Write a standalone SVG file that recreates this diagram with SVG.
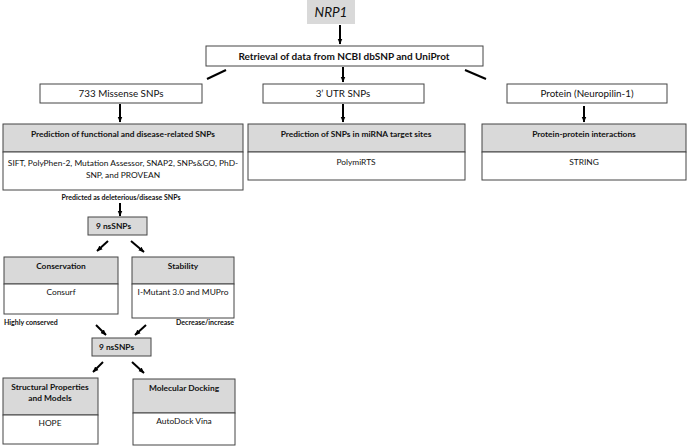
<svg xmlns="http://www.w3.org/2000/svg" width="690" height="447" viewBox="0 0 690 447">
<defs>
<marker id="ah" viewBox="0 0 10 10" refX="9" refY="5" markerWidth="3" markerHeight="3" orient="auto" markerUnits="strokeWidth">
<path d="M0,1 L10,5 L0,9 z" fill="#000"/>
</marker>
<style>
text{font-family:Lato,"Liberation Sans",sans-serif;fill:#111;text-anchor:middle}
.b{font-weight:bold}
.box{fill:#fff;stroke:#444;stroke-width:1}
.hd{fill:#d9d9d9;stroke:#444;stroke-width:1}
.ln{stroke:#000;stroke-width:2;fill:none}
.ar{stroke:#000;stroke-width:2;fill:none;marker-end:url(#ah)}
.t8{font-size:8.4px}
.t9{font-size:9.8px}
.sm{font-size:7px;font-weight:bold}
</style>
</defs>
<rect width="690" height="447" fill="#fff"/>
<g id="connectors">
<line class="ar" x1="340" y1="25" x2="340" y2="44"/>
<line class="ln" x1="226" y1="70" x2="207" y2="79"/>
<line class="ln" x1="465" y1="70" x2="486" y2="79"/>
<line class="ar" x1="343" y1="67" x2="343" y2="82"/>
<line class="ar" x1="120" y1="104" x2="120" y2="122"/>
<line class="ar" x1="343" y1="104" x2="343" y2="122"/>
<line class="ar" x1="584" y1="106" x2="584" y2="122"/>
<line class="ar" x1="120" y1="203" x2="120" y2="216"/>
<line class="ar" x1="108" y1="241" x2="97" y2="251"/>
<line class="ar" x1="131" y1="241" x2="144" y2="252"/>
<line class="ar" x1="96" y1="325" x2="106" y2="335"/>
<line class="ar" x1="146" y1="325" x2="135" y2="335"/>
<line class="ar" x1="103" y1="362" x2="93" y2="372"/>
<line class="ar" x1="132" y1="362" x2="144" y2="373"/>
</g>
<g id="nrp1">
<rect x="307" y="0" width="48" height="24" fill="#d9d9d9"/>
<text x="331" y="17" style="font-size:13.5px;font-style:italic">NRP1</text>
</g>
<g id="retrieval">
<rect class="box" x="206" y="46" width="277" height="20"/>
<text class="b" x="344" y="60" style="font-size:10px">Retrieval of data from NCBI dbSNP and UniProt</text>
</g>
<g id="missense">
<rect class="box" x="40" y="84" width="162" height="19"/>
<text class="t9" x="121" y="97">733 Missense SNPs</text>
</g>
<g id="utr">
<rect class="box" x="263" y="84" width="161" height="19"/>
<text class="t9" x="343" y="97">3’ UTR SNPs</text>
</g>
<g id="protein">
<rect class="box" x="507" y="84" width="160" height="19"/>
<text class="t9" x="587" y="97">Protein (Neuropilin-1)</text>
</g>
<g id="prediction">
<rect class="hd" x="3" y="124" width="240" height="28"/>
<rect class="box" x="3" y="152" width="240" height="38"/>
<text class="b t8" x="123" y="137">Prediction of functional and disease-related SNPs</text>
<text class="t8" x="123" y="166">SIFT, PolyPhen-2, Mutation Assessor, SNAP2, SNPs&amp;GO, PhD-</text>
<text class="t8" x="123" y="178">SNP, and PROVEAN</text>
</g>
<g id="mirna">
<rect class="hd" x="248" y="124" width="217" height="28"/>
<rect class="box" x="248" y="152" width="217" height="28"/>
<text class="b t8" x="356" y="137">Prediction of SNPs in miRNA target sites</text>
<text class="t8" x="356" y="165">PolymiRTS</text>
</g>
<g id="ppi">
<rect class="hd" x="482" y="124" width="204" height="28"/>
<rect class="box" x="482" y="152" width="204" height="28"/>
<text class="b t8" x="584" y="137">Protein-protein interactions</text>
<text class="t8" x="584" y="165">STRING</text>
</g>
<g id="predicted-label">
<text class="sm" x="121" y="200">Predicted as deleterious/disease SNPs</text>
</g>
<g id="nssnps1">
<rect class="hd" x="88" y="217" width="59" height="18"/>
<text class="b t8" x="96" y="229" style="text-anchor:start">9 nsSNPs</text>
</g>
<g id="conservation">
<rect class="hd" x="4" y="257" width="114" height="27"/>
<rect class="box" x="4" y="284" width="114" height="30"/>
<text class="b t8" x="61" y="269">Conservation</text>
<text class="t8" x="61" y="295">Consurf</text>
</g>
<g id="stability">
<rect class="hd" x="132" y="257" width="102" height="27"/>
<rect class="box" x="132" y="284" width="102" height="34"/>
<text class="b t8" x="183" y="269">Stability</text>
<text class="t8" x="183" y="295">I-Mutant 3.0 and MUPro</text>
</g>
<g id="labels">
<text class="sm" x="4" y="325" style="text-anchor:start">Highly conserved</text>
<text class="sm" x="234" y="325" style="text-anchor:end">Decrease/increase</text>
</g>
<g id="nssnps2">
<rect class="hd" x="92" y="338" width="59" height="18"/>
<text class="b t8" x="99" y="350" style="text-anchor:start">9 nsSNPs</text>
</g>
<g id="structural">
<rect class="hd" x="3" y="378" width="95" height="37"/>
<rect class="box" x="3" y="415" width="95" height="29"/>
<text class="b t8" x="50" y="390">Structural Properties</text>
<text class="b t8" x="50" y="401">and Models</text>
<text class="t8" x="50" y="426">HOPE</text>
</g>
<g id="docking">
<rect class="hd" x="133" y="379" width="102" height="34"/>
<rect class="box" x="133" y="413" width="102" height="32"/>
<text class="b t8" x="184" y="391">Molecular Docking</text>
<text class="t8" x="184" y="424">AutoDock Vina</text>
</g>
</svg>
